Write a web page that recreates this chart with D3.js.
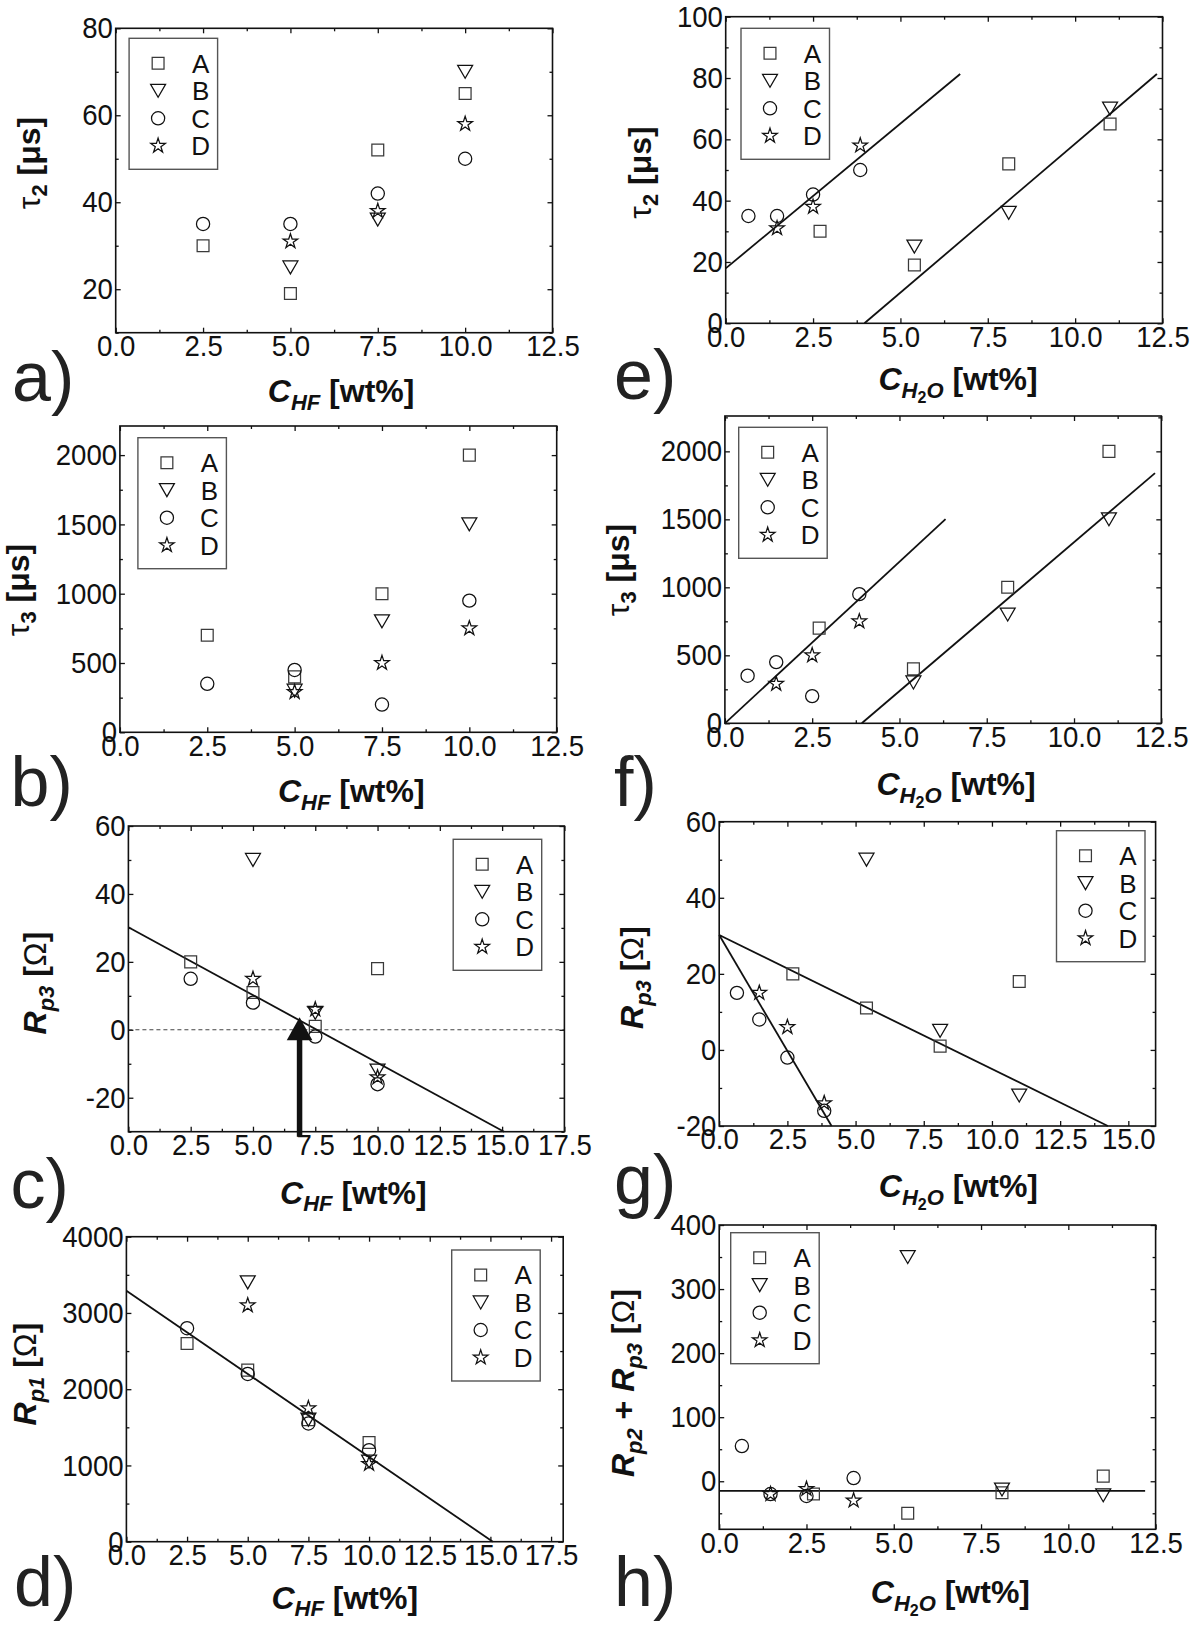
<!DOCTYPE html>
<html><head><meta charset="utf-8">
<script src="https://cdn.jsdelivr.net/npm/d3@7"></script>
<style>
body{margin:0;background:#fff}
svg{display:block}
</style>
</head><body>
<svg id="chart" width="1200" height="1625"></svg>
<script>
// ---------------- DATA ----------------
const seriesNames = ["A", "B", "C", "D"];
// concentrations (x values)
const cHF_A = [2.5, 5, 7.5, 10], cHF_B = [5, 7.5, 10], cHF_C = [2.5, 5, 7.5, 10], cHF_D = [5, 7.5, 10];
const cH2O_A = [2.7, 5.4, 8.1, 11.0], cH2O_B = [5.4, 8.1, 11.0], cH2O_C = [0.65, 1.47, 2.5, 3.85], cH2O_D = [1.47, 2.5, 3.85];
// tau2 [us]
const tau2_A = [30, 19, 52, 65], tau2_B = [25, 36, 70], tau2_C = [35, 35, 42, 50], tau2_D = [31, 38, 58];
// tau3 [us]
const tau3_A = [700, 400, 1000, 2000], tau3_B = [300, 800, 1500], tau3_C = [350, 450, 200, 950], tau3_D = [290, 500, 750];
// Rp3 [Ohm]
const rp3_A = [20, 11, 1, 18], rp3_B = [50, 5, -12], rp3_C = [15, 8, -2, -16], rp3_D = [15, 6, -14];
// Rp1 [Ohm]
const rp1_A = [2600, 2250, 1600, 1300], rp1_B = [3400, 1600, 1050], rp1_C = [2800, 2200, 1550, 1200], rp1_D = [3100, 1750, 1020];
// Rp2 + Rp3 [Ohm]
const rp23_A = [-20, -50, -18, 8], rp23_B = [350, -13, -22], rp23_C = [55, -20, -23, 5], rp23_D = [-20, -12, -30];
// fitted lines [x1, y1, x2, y2]
const fitE = [[0, 17.9, 6.71, 81.3], [3.97, 0, 12.34, 81.3]];
const fitF = [[0, 0, 6.32, 1502], [3.92, 0, 12.32, 1840]];
const fitC = [[0, 30.2, 15.08, -30]];
const fitG = [[0, 30.2, 14.25, -20], [0, 30.2, 4.12, -20]];
const fitD = [[0, 3290, 15.1, 0]];
const fitH = [[0, -15, 12.2, -15]];
const refLineC = [0];
const arrowC = {x: 6.87, from: -31.5, to: 3.7};
// tick labels
const xTicks125 = [0, 2.5, 5, 7.5, 10, 12.5];
const xTicks150 = [0, 2.5, 5, 7.5, 10, 12.5, 15];
const xTicks175 = [0, 2.5, 5, 7.5, 10, 12.5, 15, 17.5];
const yTicksTau2a = [20, 40, 60, 80];
const yTicksTau2e = [0, 20, 40, 60, 80, 100];
const yTicksTau3 = [0, 500, 1000, 1500, 2000];
const yTicksRp3 = [-20, 0, 20, 40, 60];
const yTicksRp1 = [0, 1000, 2000, 3000, 4000];
const yTicksRp23 = [0, 100, 200, 300, 400];

// ---------------- HELPERS ----------------
const FONT = '"Liberation Sans", Arial, Helvetica, sans-serif';
const INK = "#111";
const svg = d3.select("#chart");
const pts = (xs, ys) => xs.map((x, i) => ({x, y: ys[i]}));
const hfSeries = (A, B, C, D) => [pts(cHF_A, A), pts(cHF_B, B), pts(cHF_C, C), pts(cHF_D, D)];
const h2oSeries = (A, B, C, D) => [pts(cH2O_A, A), pts(cH2O_B, B), pts(cH2O_C, C), pts(cH2O_D, D)];

const symbolDefs = [
  {type: d3.symbolSquare, size: 140, rot: 0, dy: 0, stroke: "#3a3a3a"},
  {type: d3.symbolTriangle, size: 97, rot: 180, dy: -2.2, stroke: INK},
  {type: d3.symbolCircle, size: 137, rot: 0, dy: 0, stroke: INK},
  {type: d3.symbolStar, size: 66, rot: 0, dy: 0, stroke: INK}
];

function drawSymbol(g, si, px, py) {
  const s = symbolDefs[si];
  g.append("path")
    .attr("d", d3.symbol().type(s.type).size(s.size)())
    .attr("transform", `translate(${px},${py + s.dy}) rotate(${s.rot})`)
    .attr("fill", "none").attr("stroke", s.stroke).attr("stroke-width", 1.25);
}

// rich text: segments {t, w (bold), i (italic), lvl (0,1,2)}
const LV = [{size: 32, shift: 0}, {size: 22, shift: 7.5}, {size: 16, shift: 12.5}];
function rich(textSel, segs) {
  let cur = 0;
  segs.forEach(s => {
    const lv = LV[s.lvl || 0];
    textSel.append("tspan")
      .attr("dy", lv.shift - cur)
      .attr("font-size", lv.size)
      .attr("font-weight", s.w ? "bold" : "normal")
      .attr("font-style", s.i ? "italic" : "normal")
      .text(s.t);
    cur = lv.shift;
  });
}
const xTitleHF = [{t: "C", w: 1, i: 1}, {t: "HF", w: 1, i: 1, lvl: 1}, {t: " [wt%]", w: 1}];
const xTitleH2O = [{t: "C", w: 1, i: 1}, {t: "H", w: 1, i: 1, lvl: 1}, {t: "2", w: 1, lvl: 2}, {t: "O", w: 1, i: 1, lvl: 1}, {t: " [wt%]", w: 1}];
const yTitleTau2 = [{t: "τ"}, {t: "2", w: 1, lvl: 1}, {t: " [μs]", w: 1}];
const yTitleTau3 = [{t: "τ"}, {t: "3", w: 1, lvl: 1}, {t: " [μs]", w: 1}];
const yTitleRp3 = [{t: "R", w: 1, i: 1}, {t: "p3", w: 1, i: 1, lvl: 1}, {t: " [", w: 1}, {t: "Ω"}, {t: "]", w: 1}];
const yTitleRp1 = [{t: "R", w: 1, i: 1}, {t: "p1", w: 1, i: 1, lvl: 1}, {t: " [", w: 1}, {t: "Ω"}, {t: "]", w: 1}];
const yTitleRp23 = [{t: "R", w: 1, i: 1}, {t: "p2", w: 1, i: 1, lvl: 1}, {t: " + ", w: 1}, {t: "R", w: 1, i: 1}, {t: "p3", w: 1, i: 1, lvl: 1}, {t: " [", w: 1}, {t: "Ω"}, {t: "]", w: 1}];

// ---------------- PANELS (layout) ----------------
const panels = [
  {letter: "a)", lx: 12, ly: 401, rect: [115.7, 28.3, 552.5, 332.7], xDom: [0, 12.5], yDom: [10, 80],
   xTicks: xTicks125, xMinor: 1.25, yTicks: yTicksTau2a, yMinor: 10,
   series: hfSeries(tau2_A, tau2_B, tau2_C, tau2_D), fits: [],
   leg: {side: "left", dx: 13.4, dy: 10}, xTitle: xTitleHF, xtdx: 7, xtdy: 69.3, yTitle: yTitleTau2, ytdx: -76, ytcy: 163},
  {letter: "b)", lx: 10.5, ly: 806, rect: [119.9, 426, 556.7, 732.3], xDom: [0, 12.5], yDom: [0, 2210],
   xTicks: xTicks125, xMinor: 1.25, yTicks: yTicksTau3, yMinor: 250,
   series: hfSeries(tau3_A, tau3_B, tau3_C, tau3_D), fits: [],
   leg: {side: "left", dx: 18, dy: 11.7}, xTitle: xTitleHF, xtdx: 13, xtdy: 69.7, yTitle: yTitleTau3, ytdx: -91, ytcy: 590},
  {letter: "c)", lx: 10.5, ly: 1208, rect: [128.4, 826, 564.4, 1131.7], xDom: [0, 17.5], yDom: [-30, 60],
   xTicks: xTicks175, xMinor: 1.25, yTicks: yTicksRp3, yMinor: 10,
   series: hfSeries(rp3_A, rp3_B, rp3_C, rp3_D), fits: fitC, refLines: refLineC, arrow: arrowC,
   leg: {side: "right", dx: 22.7, dy: 13.3}, xTitle: xTitleHF, xtdx: 7, xtdy: 72, yTitle: yTitleRp3, ytdx: -82, ytcy: 983},
  {letter: "d)", lx: 14, ly: 1606, rect: [126.4, 1236.7, 563.2, 1541.7], xDom: [0, 18], yDom: [0, 4000],
   xTicks: xTicks175, xMinor: 1.25, yTicks: yTicksRp1, yMinor: 500,
   series: hfSeries(rp1_A, rp1_B, rp1_C, rp1_D), fits: fitD,
   leg: {side: "right", dx: 23, dy: 13.3}, xTitle: xTitleHF, xtdx: 0, xtdy: 67, yTitle: yTitleRp1, ytdx: -90, ytcy: 1374},
  {letter: "e)", lx: 614, ly: 399, rect: [725.7, 16.7, 1162.5, 323.3], xDom: [0, 12.5], yDom: [0, 100],
   xTicks: xTicks125, xMinor: 1.25, yTicks: yTicksTau2e, yMinor: 10,
   series: h2oSeries(tau2_A, tau2_B, tau2_C, tau2_D), fits: fitE,
   leg: {side: "left", dx: 15.3, dy: 11.6}, xTitle: xTitleH2O, xtdx: 14, xtdy: 67, yTitle: yTitleTau2, ytdx: -75, ytcy: 172.5},
  {letter: "f)", lx: 614, ly: 806, rect: [724.9, 416, 1161.3, 723.3], xDom: [0, 12.5], yDom: [0, 2260],
   xTicks: xTicks125, xMinor: 1.25, yTicks: yTicksTau3, yMinor: 250,
   series: h2oSeries(tau3_A, tau3_B, tau3_C, tau3_D), fits: fitF,
   leg: {side: "left", dx: 13.8, dy: 11.3}, xTitle: xTitleH2O, xtdx: 13, xtdy: 72, yTitle: yTitleTau3, ytdx: -96, ytcy: 570},
  {letter: "g)", lx: 614, ly: 1204, rect: [719.2, 821.7, 1155.6, 1126], xDom: [0, 16], yDom: [-20, 60],
   xTicks: xTicks150, xMinor: 1.25, yTicks: yTicksRp3, yMinor: 10,
   series: h2oSeries(rp3_A, rp3_B, rp3_C, rp3_D), fits: fitG,
   leg: {side: "right", dx: 10.6, dy: 9}, xTitle: xTitleH2O, xtdx: 21, xtdy: 71, yTitle: yTitleRp3, ytdx: -76, ytcy: 977.5},
  {letter: "h)", lx: 614, ly: 1606, rect: [719.2, 1225, 1155.6, 1529.3], xDom: [0, 12.5], yDom: [-75, 400],
   xTicks: xTicks125, xMinor: 1.25, yTicks: yTicksRp23, yMinor: 50,
   series: h2oSeries(rp23_A, rp23_B, rp23_C, rp23_D), fits: fitH,
   leg: {side: "left", dx: 11.5, dy: 7.7}, xTitle: xTitleH2O, xtdx: 13, xtdy: 74, yTitle: yTitleRp23, ytdx: -85, ytcy: 1383}
];

function minors(dom, step, majors) {
  const out = [];
  for (let v = Math.ceil(dom[0] / step - 1e-9) * step; v <= dom[1] + 1e-9; v += step) {
    if (!majors.some(m => Math.abs(m - v) < 1e-6)) out.push(+v.toFixed(6));
  }
  return out;
}

function styleAxis(g) {
  g.select(".domain").remove();
  g.attr("font-family", FONT).attr("font-size", 30);
  g.selectAll(".tick line").attr("stroke", INK).attr("stroke-width", 1.3);
  g.selectAll(".tick text").attr("fill", INK).attr("transform", "scale(0.92,1)");
}

function drawPanel(p) {
  const [x0, y0, x1, y1] = p.rect;
  const x = d3.scaleLinear().domain(p.xDom).range([x0, x1]);
  const y = d3.scaleLinear().domain(p.yDom).range([y1, y0]);
  const g = svg.append("g");
  const xMin = minors(p.xDom, p.xMinor, p.xTicks);
  const yMin = minors(p.yDom, p.yMinor, p.yTicks);
  const fmtX = d3.format(".1f"), fmtY = d => String(d);
  const MAJ = -5, MIN = -3;

  // bottom
  g.append("g").attr("transform", `translate(0,${y1})`)
    .call(d3.axisBottom(x).tickValues(p.xTicks).tickFormat(fmtX).tickSizeInner(MAJ).tickSizeOuter(0).tickPadding(2)).call(styleAxis);
  g.append("g").attr("transform", `translate(0,${y1})`)
    .call(d3.axisBottom(x).tickValues(xMin).tickFormat("").tickSizeInner(MIN).tickSizeOuter(0)).call(styleAxis);
  // top
  g.append("g").attr("transform", `translate(0,${y0})`)
    .call(d3.axisTop(x).tickValues(p.xTicks).tickFormat("").tickSizeInner(MAJ).tickSizeOuter(0)).call(styleAxis);
  g.append("g").attr("transform", `translate(0,${y0})`)
    .call(d3.axisTop(x).tickValues(xMin).tickFormat("").tickSizeInner(MIN).tickSizeOuter(0)).call(styleAxis);
  // left
  g.append("g").attr("transform", `translate(${x0},0)`)
    .call(d3.axisLeft(y).tickValues(p.yTicks).tickFormat(fmtY).tickSizeInner(MAJ).tickSizeOuter(0).tickPadding(3)).call(styleAxis);
  g.append("g").attr("transform", `translate(${x0},0)`)
    .call(d3.axisLeft(y).tickValues(yMin).tickFormat("").tickSizeInner(MIN).tickSizeOuter(0)).call(styleAxis);
  // right
  g.append("g").attr("transform", `translate(${x1},0)`)
    .call(d3.axisRight(y).tickValues(p.yTicks).tickFormat("").tickSizeInner(MAJ).tickSizeOuter(0)).call(styleAxis);
  g.append("g").attr("transform", `translate(${x1},0)`)
    .call(d3.axisRight(y).tickValues(yMin).tickFormat("").tickSizeInner(MIN).tickSizeOuter(0)).call(styleAxis);

  // reference dashed line
  (p.refLines || []).forEach(v => {
    g.append("line").attr("x1", x(p.xDom[0])).attr("x2", x(p.xDom[1])).attr("y1", y(v)).attr("y2", y(v))
      .attr("stroke", "#444").attr("stroke-width", 1.1).attr("stroke-dasharray", "4,3");
  });

  // fitted lines
  p.fits.forEach(f => {
    g.append("line").attr("x1", x(f[0])).attr("y1", y(f[1])).attr("x2", x(f[2])).attr("y2", y(f[3]))
      .attr("stroke", INK).attr("stroke-width", 1.8);
  });

  // markers
  p.series.forEach((s, si) => s.forEach(d => drawSymbol(g, si, x(d.x), y(d.y))));

  // arrow
  if (p.arrow) {
    const ax = x(p.arrow.x), tip = y(p.arrow.to), bot = y(p.arrow.from);
    const headH = 23, headW = 12.8;
    g.append("line").attr("x1", ax).attr("x2", ax).attr("y1", bot).attr("y2", tip + headH - 1)
      .attr("stroke", INK).attr("stroke-width", 5.5);
    g.append("path").attr("d", `M${ax},${tip} L${ax - headW},${tip + headH} L${ax + headW},${tip + headH} Z`).attr("fill", INK);
  }

  // frame
  g.append("rect").attr("x", x0).attr("y", y0).attr("width", x1 - x0).attr("height", y1 - y0)
    .attr("fill", "none").attr("stroke", INK).attr("stroke-width", 1.6);

  // legend
  const LW = 88.5, LH = 131;
  const lx = p.leg.side === "left" ? x0 + p.leg.dx : x1 - p.leg.dx - LW;
  const ly = y0 + p.leg.dy;
  const lg = g.append("g");
  lg.append("rect").attr("x", lx).attr("y", ly).attr("width", LW).attr("height", LH)
    .attr("fill", "#fff").attr("stroke", "#555").attr("stroke-width", 1.4);
  seriesNames.forEach((n, i) => {
    const ry = ly + 25 + i * 27.5;
    drawSymbol(lg, i, lx + 29, ry);
    lg.append("text").attr("x", lx + 71.5).attr("y", ry).attr("dy", "0.36em")
      .attr("text-anchor", "middle").attr("font-family", FONT).attr("font-size", 26).attr("fill", INK).text(n);
  });

  // x title
  const xt = g.append("text").attr("x", (x0 + x1) / 2 + p.xtdx).attr("y", y1 + p.xtdy)
    .attr("text-anchor", "middle").attr("font-family", FONT).attr("fill", INK);
  rich(xt, p.xTitle);
  // y title
  const yt = g.append("text").attr("transform", `translate(${x0 + p.ytdx},${p.ytcy}) rotate(-90)`)
    .attr("text-anchor", "middle").attr("font-family", FONT).attr("fill", INK);
  rich(yt, p.yTitle);
  // panel letter
  g.append("text").attr("x", p.lx).attr("y", p.ly).attr("font-family", FONT).attr("font-size", 70)
    .attr("fill", "#222").text(p.letter);
}

panels.forEach(drawPanel);
</script>
</body></html>
